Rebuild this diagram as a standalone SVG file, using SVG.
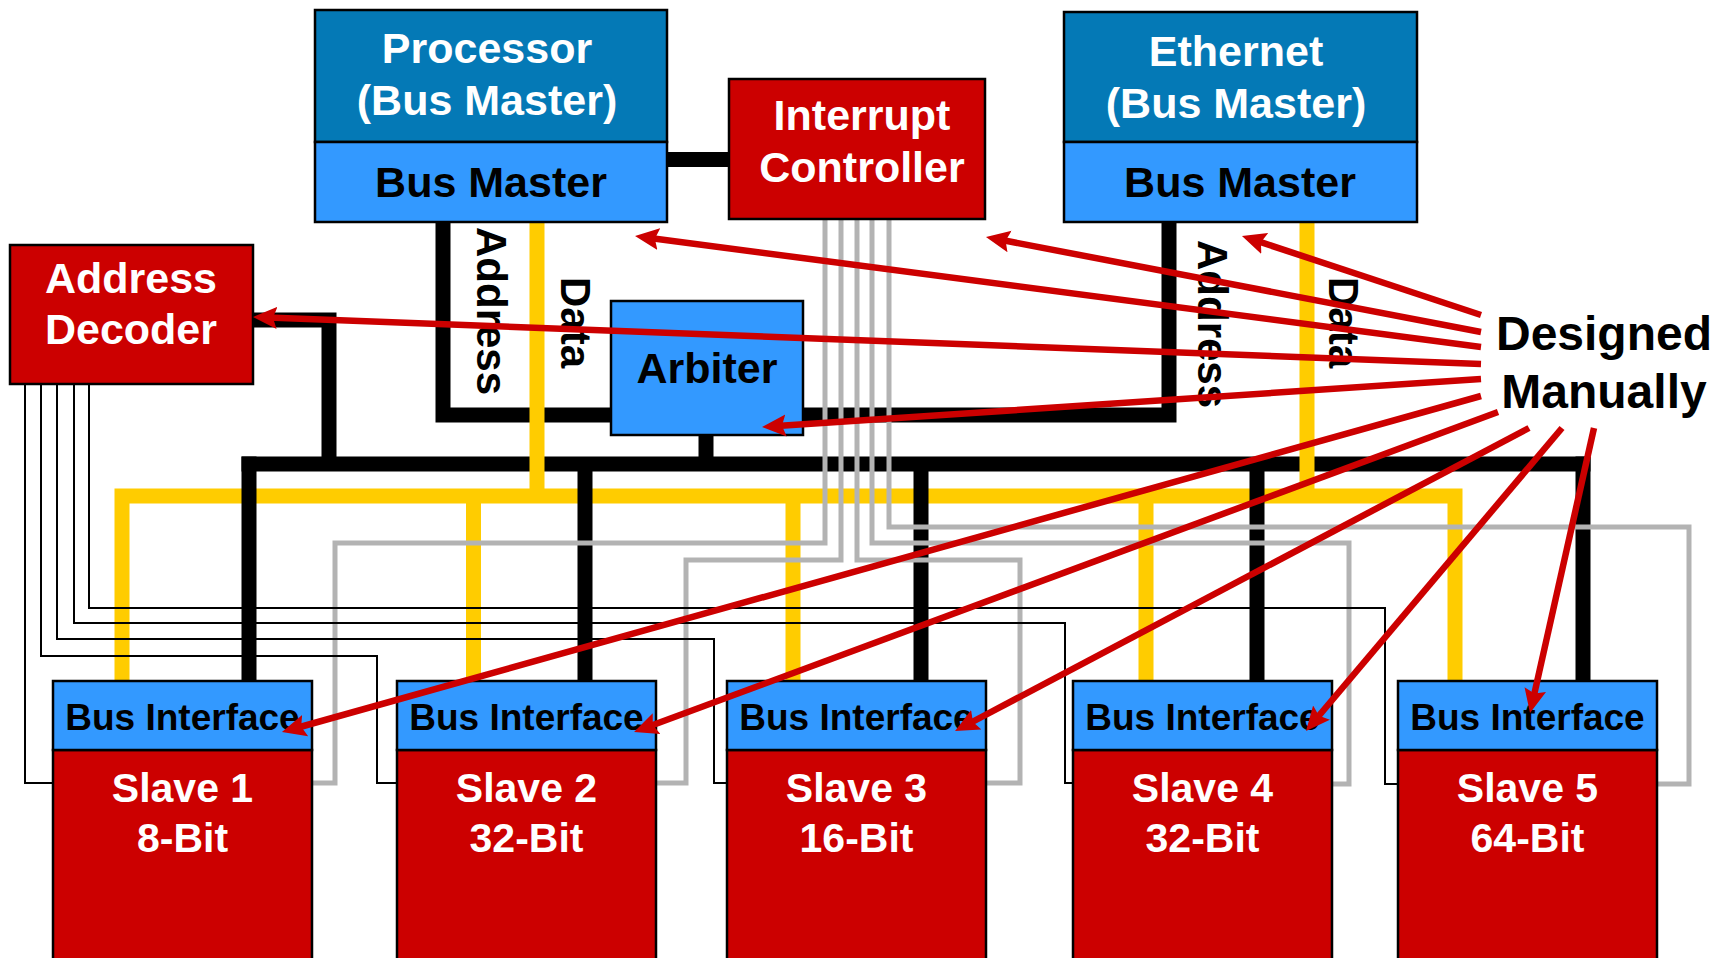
<svg xmlns="http://www.w3.org/2000/svg" width="1727" height="958" viewBox="0 0 1727 958">
<style>
.t{font-family:"Liberation Sans",Arial,sans-serif;font-weight:bold;text-anchor:middle}
.w{fill:#FFFFFF}
.k{fill:#000000}
.big{font-size:43px}
.bi{font-size:37px}
.sl{font-size:41px}
.dm{font-size:48px}
.rot{font-family:"Liberation Sans",Arial,sans-serif;font-weight:bold;font-size:42px;fill:#000}
.dark{fill:#0479B6;stroke:#000;stroke-width:2.5}
.light{fill:#3399FF;stroke:#000;stroke-width:2.5}
.red{fill:#CC0000;stroke:#000;stroke-width:2.5}
.blk{fill:none;stroke:#000;stroke-width:15}
.yel{fill:none;stroke:#FFCC00;stroke-width:15}
.gry{fill:none;stroke:#B3B3B3;stroke-width:5}
.thin{fill:none;stroke:#000;stroke-width:2}
.arr{fill:none;stroke:#CC0000;stroke-width:6.5;marker-end:url(#ah)}
</style>
<defs>
<marker id="ah" markerUnits="userSpaceOnUse" viewBox="0 0 24 24" markerWidth="24" markerHeight="24" refX="9" refY="12" orient="auto">
<path d="M0,1 L24,12 L0,23 L4,12 Z" fill="#CC0000"/>
</marker>
</defs>
<rect width="1727" height="958" fill="#FFFFFF"/>
<g id="connectors">
<g id="black-horizontal">
<line class="blk" x1="241.5" y1="464" x2="1590.5" y2="464"/>
<polyline class="blk" points="253,320 329,320 329,464"/>
<polyline class="blk" points="443,222 443,415 611,415"/>
<polyline class="blk" points="1169,222 1169,415 803,415"/>
<line class="blk" x1="667" y1="159.5" x2="729" y2="159.5"/>
<line class="blk" x1="706" y1="435" x2="706" y2="464"/>
</g>
<g id="yellow-bus">
<polyline class="yel" points="122,681 122,496 1455,496 1455,681"/>
<line class="yel" x1="537" y1="222" x2="537" y2="496"/>
<line class="yel" x1="1307" y1="222" x2="1307" y2="496"/>
<line class="yel" x1="473.5" y1="496" x2="473.5" y2="681"/>
<line class="yel" x1="793" y1="496" x2="793" y2="681"/>
<line class="yel" x1="1146" y1="496" x2="1146" y2="681"/>
</g>
<g id="black-drops">
<line class="blk" x1="249" y1="456.5" x2="249" y2="681"/>
<line class="blk" x1="585" y1="464" x2="585" y2="681"/>
<line class="blk" x1="921" y1="464" x2="921" y2="681"/>
<line class="blk" x1="1257" y1="464" x2="1257" y2="681"/>
<line class="blk" x1="1583" y1="456.5" x2="1583" y2="681"/>
</g>
<g id="interrupt-lines">
<polyline class="gry" points="825,219 825,543 335,543 335,783 312,783"/>
<polyline class="gry" points="841,219 841,560 686,560 686,783 656,783"/>
<polyline class="gry" points="857,219 857,560 1020,560 1020,783 986,783"/>
<polyline class="gry" points="872,219 872,543 1349,543 1349,784 1332,784"/>
<polyline class="gry" points="889,219 889,527 1689,527 1689,784 1657,784"/>
</g>
<g id="select-lines">
<polyline class="thin" points="25,384 25,783 53,783"/>
<polyline class="thin" points="41,384 41,656 377,656 377,783 397,783"/>
<polyline class="thin" points="57,384 57,639 714,639 714,783 727,783"/>
<polyline class="thin" points="74,384 74,623 1065,623 1065,783 1073,783"/>
<polyline class="thin" points="89,384 89,608 1385,608 1385,784 1398,784"/>
</g>
<text class="rot" transform="translate(477,227) rotate(90)">Address</text>
<text class="rot" transform="translate(561,277) rotate(90)">Data</text>
<text class="rot" transform="translate(1198,240) rotate(90)">Address</text>
<text class="rot" transform="translate(1329,277) rotate(90)">Data</text>
</g>
<g id="processor">
<rect class="dark" x="315" y="10" width="352" height="132"/>
<rect class="light" x="315" y="142" width="352" height="80"/>
<text class="t w big" x="487" y="63">Processor</text>
<text class="t w big" x="487" y="115">(Bus Master)</text>
<text class="t k big" x="491" y="197">Bus Master</text>
</g>
<g id="interrupt-controller">
<rect class="red" x="729" y="79" width="256" height="140"/>
<text class="t w big" x="862" y="130">Interrupt</text>
<text class="t w big" x="862" y="182">Controller</text>
</g>
<g id="ethernet">
<rect class="dark" x="1064" y="12" width="353" height="130"/>
<rect class="light" x="1064" y="142" width="353" height="80"/>
<text class="t w big" x="1236" y="66">Ethernet</text>
<text class="t w big" x="1236" y="118">(Bus Master)</text>
<text class="t k big" x="1240" y="197">Bus Master</text>
</g>
<g id="address-decoder">
<rect class="red" x="10" y="245" width="243" height="139"/>
<text class="t w big" x="131" y="293">Address</text>
<text class="t w big" x="131" y="344">Decoder</text>
</g>
<g id="arbiter">
<rect class="light" x="611" y="301" width="192" height="134"/>
<text class="t k big" x="707" y="383">Arbiter</text>
</g>
<g id="slave1">
<rect class="red" x="53" y="750" width="259" height="220"/>
<rect class="light" x="53" y="681" width="259" height="69"/>
<text class="t k bi" x="182.5" y="730">Bus Interface</text>
<text class="t w sl" x="182.5" y="802">Slave 1</text>
<text class="t w sl" x="182.5" y="852">8-Bit</text>
</g>
<g id="slave2">
<rect class="red" x="397" y="750" width="259" height="220"/>
<rect class="light" x="397" y="681" width="259" height="69"/>
<text class="t k bi" x="526.5" y="730">Bus Interface</text>
<text class="t w sl" x="526.5" y="802">Slave 2</text>
<text class="t w sl" x="526.5" y="852">32-Bit</text>
</g>
<g id="slave3">
<rect class="red" x="727" y="750" width="259" height="220"/>
<rect class="light" x="727" y="681" width="259" height="69"/>
<text class="t k bi" x="856.5" y="730">Bus Interface</text>
<text class="t w sl" x="856.5" y="802">Slave 3</text>
<text class="t w sl" x="856.5" y="852">16-Bit</text>
</g>
<g id="slave4">
<rect class="red" x="1073" y="750" width="259" height="220"/>
<rect class="light" x="1073" y="681" width="259" height="69"/>
<text class="t k bi" x="1202.5" y="730">Bus Interface</text>
<text class="t w sl" x="1202.5" y="802">Slave 4</text>
<text class="t w sl" x="1202.5" y="852">32-Bit</text>
</g>
<g id="slave5">
<rect class="red" x="1398" y="750" width="259" height="220"/>
<rect class="light" x="1398" y="681" width="259" height="69"/>
<text class="t k bi" x="1527.5" y="730">Bus Interface</text>
<text class="t w sl" x="1527.5" y="802">Slave 5</text>
<text class="t w sl" x="1527.5" y="852">64-Bit</text>
</g>
<g id="designed-manually">
<text class="t k dm" x="1604" y="350">Designed</text>
<text class="t k dm" x="1604" y="408">Manually</text>
</g>
<g id="annotation-arrows">
<line class="arr" x1="1481" y1="315" x2="1256.2" y2="240.7"/>
<line class="arr" x1="1481" y1="332" x2="1000.7" y2="239.8"/>
<line class="arr" x1="1481" y1="347" x2="649.9" y2="238"/>
<line class="arr" x1="1481" y1="364" x2="268" y2="317.6"/>
<line class="arr" x1="1481" y1="379" x2="777" y2="426"/>
<line class="arr" x1="1481" y1="396" x2="296.4" y2="728"/>
<line class="arr" x1="1498" y1="412" x2="648.1" y2="726.8"/>
<line class="arr" x1="1529" y1="428" x2="968.3" y2="724"/>
<line class="arr" x1="1562" y1="428" x2="1315.7" y2="719.5"/>
<line class="arr" x1="1594" y1="428" x2="1533.3" y2="698.4"/>
</g>
</svg>
